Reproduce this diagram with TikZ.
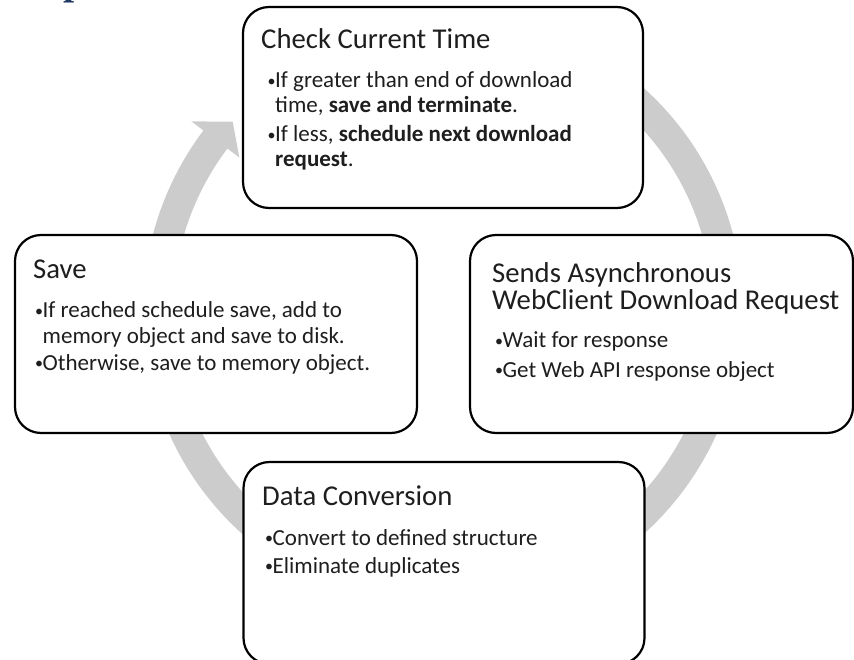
\documentclass[tikz,border=0pt]{standalone}
\usepackage{fontspec}
\setmainfont{Carlito}
\newfontfamily\fragfont{Liberation Serif}
\definecolor{ringgray}{RGB}{204,204,204}
\definecolor{fragblue}{RGB}{31,56,100}
\definecolor{txt}{RGB}{30,30,30}
\newcommand\mybul{\makebox[7pt][l]{\kern-0.5pt\raisebox{1.6pt}{\fontsize{16}{16}\selectfont •}}}
\begin{document}
\begin{tikzpicture}[x=1pt,y=-1pt,
  box/.style={draw=black, line width=2.2pt, rounded corners=26pt, fill=white, inner sep=0pt},
  ring/.style={line width=30pt, draw=ringgray},
  head/.style={fill=ringgray, draw=none},
  ttl/.style={anchor=base west, inner sep=0pt, font=\fontsize{28.7}{26}\selectfont, text=txt},
  itm/.style={anchor=base west, inner sep=0pt, font=\fontsize{23}{27}\selectfont, text=txt}]
\useasboundingbox (0,0) rectangle (854,660);
\clip (0,0) rectangle (854,660);
% cut-off fragment of a heading above the picture
\node[anchor=base west, inner sep=0pt, font=\fragfont\bfseries\fontsize{40}{40}\selectfont, text=fragblue] (frag) at (63,-5.4) {p};
% circular arrow behind the boxes
\coordinate (c) at (443,311);
\draw[ring] (c) ++(-100:285) arc[start angle=-100, end angle=217.5, radius=285];
\path (c) ++(217:315) coordinate (h1);
\path (c) ++(217:255) coordinate (h2);
\path (c) ++(222:283) coordinate (h3);
\fill[head] (h1) -- (h3) -- (h2) -- cycle;
% boxes
\node[box, minimum width=400pt, minimum height=201pt] (tb) at (443,107.5) {};
\node[box, minimum width=402pt, minimum height=198pt] (sb) at (216,334) {};
\node[box, minimum width=383pt, minimum height=198pt] (rb) at (661.5,334) {};
\node[box, minimum width=401pt, minimum height=202pt] (db) at (444,563) {};
% top box text
\node[ttl] (tbt) at (261,49) {Check Current Time};
\node[itm] (tb1) at (268,88) {\mybul If greater than end of download};
\node[itm] (tb1b) at (275,113) {time, \textbf{save and terminate}.};
\node[itm] (tb2) at (268,142) {\mybul If less, \textbf{schedule next download}};
\node[itm] (tb2b) at (275,167) {\textbf{request}.};
% save box text
\node[ttl] (sbt) at (33,279) {Save};
\node[itm] (sb1) at (35.5,318) {\mybul If reached schedule save, add to};
\node[itm] (sb1b) at (42.5,343) {memory object and save to disk.};
\node[itm] (sb2) at (35.5,370) {\mybul Otherwise, save to memory object.};
% sends box text
\node[ttl] (rbt1) at (492,283) {Sends Asynchronous};
\node[ttl] (rbt2) at (492,309) {WebClient Download Request};
\node[itm] (rb1) at (495.5,348) {\mybul Wait for response};
\node[itm] (rb2) at (495.5,377) {\mybul Get Web API response object};
% data conversion box text
\node[ttl] (dbt) at (262,505) {Data Conversion};
\node[itm] (db1) at (265.5,545) {\mybul Convert to defined structure};
\node[itm] (db2) at (265.5,573) {\mybul Eliminate duplicates};
\end{tikzpicture}
\end{document}
